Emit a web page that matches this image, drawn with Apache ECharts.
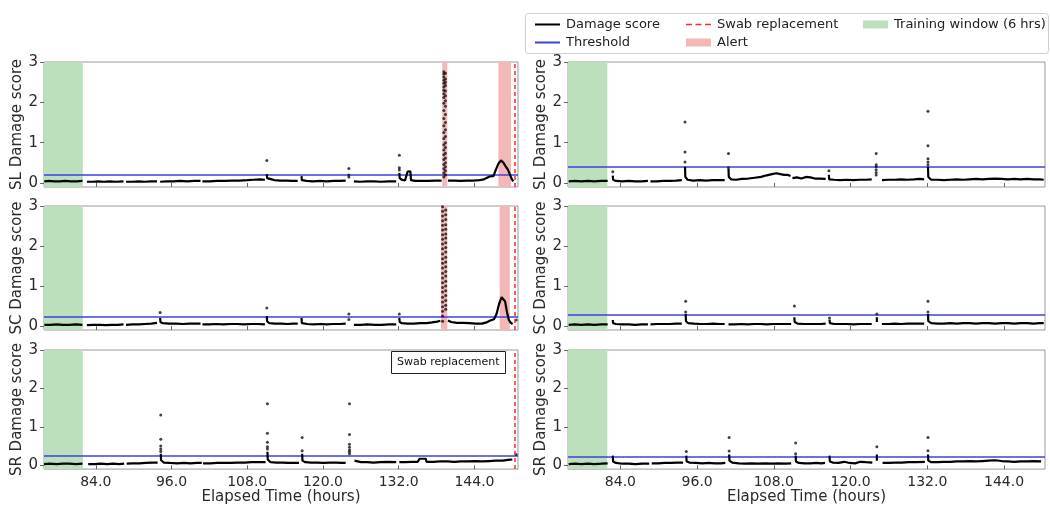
<!DOCTYPE html>
<html>
<head>
<meta charset="utf-8">
<script src="https://cdn.jsdelivr.net/npm/echarts@6/dist/echarts.min.js"></script>
<style>html,body{margin:0;padding:0;background:#fff}#c{width:1050px;height:506px}</style>
</head>
<body>
<div id="c"></div>
<script>
// ---------------- data (hours, damage score) ----------------
const xTicks = [84, 96, 108, 120, 132, 144];
const yTicks = [0, 1, 2, 3];
const rowNames = ['SL Damage score', 'SC Damage score', 'SR Damage score'];
const xRangeLeft = [75.8, 150.9];
const xRangeRight = [75.8, 150.4];
const trainingWindow = [75.8, 81.95];
const swabTime = 150.35;
// thresholds: left SL, SC, SR, right SL, SC, SR
const thresholds = [0.21, 0.22, 0.26, 0.39, 0.27, 0.21];

const slLeftAlerts = [[138.9, 139.7], [147.8, 149.8]];
const scLeftAlerts = [[138.7, 139.7], [148.0, 149.6]];

const slLeftLine = [
 [[75.85,0.04],[76.6,0.05],[77.4,0.04],[78.3,0.04],[79.2,0.05],[80.1,0.04],[81.0,0.04],[81.9,0.05]],
 [[82.6,0.03],[83.5,0.03],[84.4,0.04],[85.3,0.03],[86.2,0.04],[87.2,0.03],[88.4,0.04]],
 [[88.8,0.03],[89.8,0.03],[90.8,0.04],[91.8,0.03],[92.8,0.04],[93.7,0.04]],
 [[94.2,0.03],[95.2,0.04],[96.3,0.04],[97.4,0.05],[98.5,0.04],[99.6,0.05],[100.6,0.05]],
 [[100.9,0.04],[102.0,0.04],[103.2,0.05],[104.4,0.05],[105.6,0.06],[106.8,0.06],[108.0,0.07],[109.0,0.08],[110.0,0.09],[110.8,0.08]],
 [[111.1,0.22],[111.15,0.12],[111.4,0.08],[112.3,0.07],[113.2,0.06],[114.2,0.06],[115.1,0.05],[116.0,0.05]],
 [[116.6,0.17],[116.65,0.07],[117.4,0.05],[118.4,0.04],[119.5,0.05],[120.6,0.04],[121.7,0.05],[122.7,0.05],[123.6,0.06]],
 [[124.9,0.04],[125.9,0.03],[127.0,0.04],[128.1,0.04],[129.2,0.03],[130.4,0.04],[131.6,0.04]],
 [[132.1,0.25],[132.15,0.12],[132.5,0.08],[133.0,0.06],[133.3,0.07],[133.4,0.28],[133.6,0.3],[133.85,0.29],[133.95,0.07],[134.6,0.05],[135.6,0.05],[136.7,0.05],[137.8,0.06],[138.8,0.06]],
 [[139.8,0.06],[140.8,0.06],[141.8,0.05],[142.8,0.06],[143.8,0.06],[144.8,0.07],[145.5,0.09],[146.0,0.13],[146.4,0.16],[146.7,0.12],[147.0,0.17],[147.4,0.33],[147.8,0.48],[148.2,0.56],[148.6,0.5],[149.0,0.4],[149.3,0.33],[149.6,0.22],[149.9,0.1],[150.15,0.04]]
];
const slLeftDots = [[111.1,0.56],[124.1,0.36],[124.1,0.2],[124.1,0.15],[132.1,0.69],[132.1,0.38],[132.1,0.32]];
const slLeftBurst = [
 [139.15, [2.76,2.7,2.63,2.55,2.47,2.38,2.3,2.21,2.12,1.98,1.8,1.6,1.42,1.25,1.1,0.95,0.82,0.7,0.58,0.46,0.35,0.25,0.15]],
 [139.4, [2.72,2.58,2.5,2.42,2.28,2.16,2.04,1.9,1.7,1.5,1.32,1.15,1.0,0.88,0.74,0.62,0.5,0.4,0.3,0.2]]
];

const scLeftLine = [
 [[75.85,0.03],[76.8,0.03],[77.8,0.04],[78.8,0.03],[79.8,0.03],[80.9,0.04],[81.9,0.03]],
 [[82.6,0.02],[83.6,0.03],[84.6,0.03],[85.6,0.02],[86.6,0.03],[87.5,0.03],[88.4,0.04]],
 [[88.8,0.03],[89.8,0.04],[90.8,0.04],[91.8,0.05],[92.8,0.06],[93.7,0.08]],
 [[94.2,0.2],[94.25,0.1],[94.6,0.07],[95.6,0.06],[96.7,0.06],[97.8,0.05],[98.9,0.06],[99.8,0.06],[100.6,0.06]],
 [[100.9,0.04],[102.0,0.04],[103.1,0.05],[104.2,0.04],[105.3,0.05],[106.4,0.05],[107.5,0.04],[108.6,0.05],[109.7,0.05],[110.8,0.04]],
 [[111.1,0.25],[111.15,0.12],[111.5,0.07],[112.4,0.06],[113.4,0.06],[114.4,0.05],[115.3,0.06],[116.0,0.06]],
 [[116.6,0.2],[116.65,0.07],[117.5,0.05],[118.5,0.04],[119.6,0.05],[120.6,0.04],[121.6,0.05],[122.7,0.05],[123.6,0.06]],
 [[124.9,0.03],[126.0,0.03],[127.1,0.04],[128.2,0.03],[129.3,0.03],[130.5,0.04],[131.6,0.04]],
 [[132.1,0.2],[132.15,0.1],[132.5,0.07],[133.4,0.06],[134.4,0.06],[135.4,0.07],[136.4,0.07],[137.3,0.09],[138.1,0.11],[138.6,0.13]],
 [[139.8,0.14],[140.3,0.1],[141.2,0.08],[142.2,0.08],[143.2,0.07],[144.2,0.06],[145.2,0.06],[145.9,0.09],[146.4,0.13],[146.7,0.12],[147.1,0.17],[147.5,0.3],[147.9,0.55],[148.3,0.72],[148.6,0.76],[148.85,0.62],[149.15,0.35],[149.45,0.15],[149.75,0.08],[150.05,0.05]]
];
const scLeftDots = [[94.2,0.34],[111.1,0.45],[124.1,0.3],[124.1,0.16],[132.1,0.3],[150.6,0.15]];
const scLeftBurst = [
 [138.95, [2.98,2.87,2.75,2.63,2.52,2.4,2.28,2.17,2.05,1.93,1.8,1.68,1.57,1.45,1.32,1.2,1.08,0.96,0.85,0.72,0.6,0.48,0.37,0.25,0.12]],
 [139.45, [2.9,2.78,2.66,2.53,2.42,2.3,2.2,2.08,1.96,1.85,1.72,1.6,1.48,1.36,1.25,1.12,1.0,0.88,0.76,0.64,0.52,0.42]]
];

const srLeftLine = [
 [[75.8,0.03],[76.8,0.04],[77.8,0.03],[78.8,0.04],[79.8,0.04],[80.9,0.03],[81.9,0.04]],
 [[82.8,0.03],[83.8,0.03],[84.8,0.04],[85.8,0.03],[86.8,0.04],[87.7,0.03],[88.5,0.04]],
 [[88.9,0.04],[89.9,0.05],[90.9,0.05],[91.9,0.06],[92.9,0.07],[93.8,0.07]],
 [[94.3,0.3],[94.35,0.13],[94.8,0.07],[95.8,0.06],[96.9,0.05],[98.0,0.06],[99.0,0.05],[100.0,0.06],[100.8,0.06]],
 [[101.0,0.05],[102.1,0.05],[103.2,0.06],[104.3,0.06],[105.4,0.06],[106.5,0.07],[107.6,0.07],[108.7,0.08],[109.8,0.08],[110.9,0.08]],
 [[111.2,0.35],[111.25,0.15],[111.7,0.08],[112.6,0.07],[113.6,0.07],[114.5,0.06],[115.4,0.06],[116.2,0.06]],
 [[116.7,0.3],[116.75,0.12],[117.2,0.08],[118.1,0.07],[119.1,0.07],[120.1,0.06],[121.1,0.07],[122.1,0.07],[123.0,0.06],[123.6,0.06]],
 [[125.0,0.12],[125.1,0.07],[126.0,0.08],[127.0,0.08],[128.0,0.07],[129.1,0.08],[130.2,0.09],[131.6,0.08]],
 [[132.1,0.08],[133.0,0.08],[134.0,0.09],[135.0,0.09],[135.3,0.17],[136.3,0.17],[136.4,0.09],[137.5,0.09],[138.6,0.1],[139.7,0.1],[140.8,0.09],[141.9,0.1],[143.0,0.1],[144.1,0.11],[145.2,0.1],[146.3,0.11],[147.4,0.12],[148.5,0.12],[149.3,0.14],[150.0,0.15]]
];
const srLeftDots = [[94.3,1.31],[94.3,0.68],[94.3,0.5],[94.3,0.42],[94.3,0.36],[111.2,1.6],[111.2,0.83],[111.2,0.6],[111.2,0.48],[111.2,0.42],[116.7,0.72],[116.7,0.38],[124.2,1.6],[124.2,0.8],[124.2,0.55],[124.2,0.47],[124.2,0.4],[124.2,0.35],[124.2,0.3],[150.6,0.28]];

const slRightLine = [
 [[75.9,0.04],[76.9,0.05],[77.9,0.04],[78.9,0.05],[79.9,0.04],[81.0,0.05],[82.0,0.05]],
 [[82.8,0.18],[82.85,0.08],[83.3,0.05],[84.3,0.04],[85.3,0.05],[86.3,0.04],[87.3,0.04],[88.3,0.05]],
 [[88.7,0.04],[89.7,0.04],[90.7,0.05],[91.7,0.05],[92.7,0.06],[93.6,0.07]],
 [[94.1,0.4],[94.15,0.15],[94.5,0.08],[95.4,0.06],[96.4,0.07],[97.4,0.06],[98.4,0.07],[99.4,0.07],[100.3,0.07]],
 [[100.9,0.35],[100.95,0.15],[101.3,0.09],[102.1,0.08],[103.0,0.1],[104.0,0.11],[105.0,0.13],[106.0,0.15],[106.9,0.19],[107.7,0.22],[108.4,0.24],[109.0,0.22],[109.6,0.2],[110.2,0.2],[110.6,0.17]],
 [[110.9,0.12],[111.6,0.14],[112.3,0.11],[113.0,0.15],[113.7,0.14],[114.4,0.11],[115.2,0.11],[116.1,0.1]],
 [[116.6,0.2],[116.65,0.09],[117.4,0.08],[118.4,0.07],[119.4,0.08],[120.4,0.07],[121.4,0.08],[122.4,0.08],[123.3,0.09]],
 [[124.9,0.07],[125.9,0.08],[126.9,0.08],[127.9,0.09],[128.9,0.08],[129.9,0.09],[130.8,0.1],[131.5,0.09]],
 [[132.1,0.4],[132.15,0.15],[132.6,0.08],[133.6,0.08],[134.6,0.07],[135.6,0.08],[136.6,0.09],[137.6,0.08],[138.6,0.09],[139.6,0.1],[140.6,0.09],[141.6,0.1],[142.6,0.11],[143.6,0.1],[144.6,0.09],[145.6,0.1],[146.6,0.09],[147.6,0.1],[148.6,0.09],[149.6,0.09],[150.2,0.08]]
];
const slRightDots = [[82.8,0.28],[94.1,1.51],[94.1,0.77],[94.1,0.52],[100.9,0.73],[100.9,0.38],[116.6,0.3],[124.0,0.73],[124.0,0.45],[124.0,0.4],[124.0,0.33],[124.0,0.26],[124.0,0.2],[132.1,1.78],[132.1,0.92],[132.1,0.6],[132.1,0.52],[132.1,0.45]];

const scRightLine = [
 [[75.9,0.03],[76.9,0.04],[77.9,0.03],[78.9,0.04],[79.9,0.03],[81.0,0.04],[82.0,0.04]],
 [[82.8,0.15],[82.85,0.07],[83.3,0.05],[84.3,0.04],[85.3,0.04],[86.3,0.03],[87.3,0.04],[88.3,0.04]],
 [[88.7,0.04],[89.7,0.05],[90.7,0.05],[91.7,0.05],[92.7,0.06],[93.6,0.06]],
 [[94.2,0.3],[94.25,0.12],[94.6,0.07],[95.5,0.06],[96.5,0.05],[97.5,0.05],[98.5,0.06],[99.5,0.05],[100.3,0.05]],
 [[100.9,0.04],[101.9,0.04],[102.9,0.05],[103.9,0.04],[104.9,0.05],[105.9,0.05],[106.9,0.04],[107.9,0.05],[108.9,0.05],[109.9,0.05],[110.7,0.05]],
 [[111.2,0.22],[111.25,0.1],[111.7,0.06],[112.6,0.05],[113.6,0.05],[114.5,0.05],[115.4,0.05],[116.1,0.06]],
 [[116.7,0.16],[116.75,0.07],[117.4,0.05],[118.4,0.05],[119.4,0.05],[120.4,0.04],[121.4,0.05],[122.4,0.05],[123.3,0.05]],
 [[124.1,0.22],[124.1,0.1]],
 [[124.9,0.05],[125.9,0.05],[126.9,0.06],[127.9,0.05],[128.9,0.06],[129.9,0.06],[130.8,0.06],[131.5,0.06]],
 [[132.1,0.3],[132.15,0.12],[132.6,0.07],[133.6,0.06],[134.6,0.06],[135.6,0.07],[136.6,0.06],[137.6,0.07],[138.6,0.07],[139.6,0.06],[140.6,0.07],[141.6,0.07],[142.6,0.06],[143.6,0.07],[144.6,0.07],[145.6,0.06],[146.6,0.07],[147.6,0.07],[148.6,0.06],[149.6,0.07],[150.2,0.07]]
];
const scRightDots = [[94.2,0.62],[94.2,0.35],[111.2,0.5],[116.7,0.2],[124.1,0.3],[132.1,0.62],[132.1,0.35]];

const srRightLine = [
 [[75.9,0.03],[76.9,0.04],[77.9,0.03],[78.9,0.04],[79.9,0.03],[81.0,0.04],[82.0,0.05]],
 [[82.8,0.25],[82.85,0.1],[83.3,0.06],[84.3,0.04],[85.3,0.04],[86.3,0.03],[87.4,0.04],[88.5,0.04]],
 [[88.9,0.05],[89.9,0.05],[90.9,0.06],[91.9,0.06],[92.9,0.07],[93.8,0.07]],
 [[94.3,0.25],[94.35,0.1],[94.8,0.07],[95.8,0.06],[96.8,0.05],[97.8,0.06],[98.8,0.05],[99.7,0.05],[100.4,0.06]],
 [[101.0,0.28],[101.05,0.12],[101.5,0.07],[102.5,0.05],[103.5,0.04],[104.5,0.05],[105.5,0.04],[106.6,0.05],[107.7,0.04],[108.8,0.05],[109.8,0.04],[110.7,0.05]],
 [[111.4,0.25],[111.45,0.1],[111.9,0.06],[112.8,0.05],[113.7,0.05],[114.6,0.06],[115.4,0.05],[116.0,0.06]],
 [[116.7,0.25],[116.75,0.1],[117.2,0.07],[118.1,0.06],[119.0,0.09],[119.8,0.06],[120.7,0.05],[121.5,0.09],[122.4,0.08],[123.4,0.07]],
 [[124.1,0.28],[124.1,0.12]],
 [[125.0,0.06],[126.0,0.06],[127.0,0.07],[128.0,0.07],[129.1,0.08],[130.2,0.08],[131.6,0.09]],
 [[132.1,0.28],[132.15,0.12],[132.6,0.08],[133.6,0.08],[134.6,0.09],[135.6,0.09],[136.6,0.1],[137.6,0.1],[138.6,0.11],[139.6,0.1],[140.6,0.11],[141.6,0.12],[142.6,0.13],[143.6,0.11],[144.6,0.1],[145.6,0.09],[146.6,0.1],[147.6,0.1],[148.6,0.11],[149.8,0.1]]
];
const srRightDots = [[94.3,0.36],[101.0,0.72],[101.0,0.37],[111.4,0.58],[111.4,0.3],[124.1,0.48],[132.1,0.72],[132.1,0.38]];

// ---------------- chart ----------------
const FONT = 'DejaVu Sans';
const GREEN = '#bcdfbc', PINK = '#f3b7b7', BLUE = '#3f3fe0', RED = '#ff2a2a';
const LINE_ICON = 'path://M0,3.1h25v1.8h-25z M0,0h0.01v0.01h-0.01z M0,8h0.01v0.01h-0.01z';
const DASH_ICON = 'path://M0,3.2h6v1.6h-6z M9.5,3.2h6v1.6h-6z M19,3.2h6v1.6h-6z M0,0h0.01v0.01h-0.01z M0,8h0.01v0.01h-0.01z';

const panels = [
 {col:0,row:0,line:slLeftLine,dots:slLeftDots,burst:slLeftBurst,alerts:slLeftAlerts,swab:true},
 {col:0,row:1,line:scLeftLine,dots:scLeftDots,burst:scLeftBurst,alerts:scLeftAlerts,swab:true},
 {col:0,row:2,line:srLeftLine,dots:srLeftDots,burst:[],alerts:[],swab:true},
 {col:1,row:0,line:slRightLine,dots:slRightDots,burst:[],alerts:[],swab:false},
 {col:1,row:1,line:scRightLine,dots:scRightDots,burst:[],alerts:[],swab:false},
 {col:1,row:2,line:srRightLine,dots:srRightDots,burst:[],alerts:[],swab:false}
];
const colBox = [{left:44,width:474},{left:568,width:477}];
const rowBox = [{top:62,height:125},{top:206,height:124},{top:350,height:124}];

const grid = [], xAxis = [], yAxis = [], series = [];
panels.forEach((p, i) => {
  grid.push({left: colBox[p.col].left, width: colBox[p.col].width, top: rowBox[p.row].top, height: rowBox[p.row].height,
    show: true, borderColor: '#9a9a9a', borderWidth: 1, backgroundColor: 'transparent'});
  const rng = p.col === 0 ? xRangeLeft : xRangeRight;
  const bottom = p.row === 2;
  xAxis.push({type:'value', gridIndex:i, min:rng[0], max:rng[1],
    axisLine:{show:false}, splitLine:{show:false},
    axisTick:{show:true, customValues:xTicks, length:4, lineStyle:{color:'#666'}},
    axisLabel:{show:bottom, customValues:xTicks, formatter:v=>v.toFixed(1), fontSize:14, color:'#2a2a2a', margin:6, fontFamily:FONT},
    name: bottom ? 'Elapsed Time (hours)' : '', nameLocation:'middle', nameGap:17,
    nameTextStyle:{fontSize:15, color:'#2a2a2a', fontFamily:FONT}});
  yAxis.push({type:'value', gridIndex:i, min:-0.1, max:3,
    axisLine:{show:false}, splitLine:{show:false},
    axisTick:{show:true, customValues:yTicks, length:4, lineStyle:{color:'#666'}},
    axisLabel:{customValues:yTicks, fontSize:15, color:'#2a2a2a', margin:6, fontFamily:FONT},
    name: rowNames[p.row], nameLocation:'middle', nameGap:19, nameRotate:90,
    nameTextStyle:{fontSize:15, color:'#2a2a2a', fontFamily:FONT}});

  series.push({name:'Training window (6 hrs)', type:'line', xAxisIndex:i, yAxisIndex:i, data:[], color:GREEN,
    itemStyle:{color:GREEN}, silent:true,
    markArea:{silent:true, itemStyle:{color:GREEN, opacity:1}, data:[[{xAxis:trainingWindow[0]},{xAxis:trainingWindow[1]}]]}});
  series.push({name:'Alert', type:'line', xAxisIndex:i, yAxisIndex:i, data:[], color:PINK, itemStyle:{color:PINK}, silent:true,
    markArea:{silent:true, itemStyle:{color:PINK, opacity:1}, data:p.alerts.map(a=>[{xAxis:a[0]},{xAxis:a[1]}])}});
  series.push({name:'Threshold', type:'line', xAxisIndex:i, yAxisIndex:i, data:[], color:BLUE, itemStyle:{color:BLUE}, symbol:'none',
    lineStyle:{color:BLUE, width:1.5}, silent:true, z:3,
    markLine:{silent:true, symbol:'none', label:{show:false}, animation:false,
      lineStyle:{color:BLUE, width:1.5, type:'solid'}, data:[{yAxis:thresholds[i]}]}});
  const flat = [];
  p.line.forEach((seg, k) => {
    if (k > 0) flat.push([seg[0][0], '-']);
    seg.forEach(pt => flat.push(pt));
  });
  series.push({name:'Damage score', type:'line', xAxisIndex:i, yAxisIndex:i, data:flat, color:'#000', itemStyle:{color:'#000'},
    symbol:'none', connectNulls:false, lineStyle:{color:'#000', width:2.2}, z:5, silent:true, animation:false});
  const pts = p.dots.slice();
  p.burst.forEach(b => b[1].forEach(v => pts.push([b[0], v])));
  series.push({name:'Damage score points', type:'scatter', xAxisIndex:i, yAxisIndex:i, data:pts,
    symbolSize:3, itemStyle:{color:'#111'}, z:6, silent:true, animation:false});
  if (p.swab) {
    series.push({name:'Swab replacement', type:'line', xAxisIndex:i, yAxisIndex:i, data:[], color:RED, itemStyle:{color:RED}, symbol:'none',
      lineStyle:{color:RED, width:1.5, type:[4,3]}, silent:true, z:7,
      markLine:{silent:true, symbol:'none', label:{show:false}, animation:false, z:7,
        lineStyle:{color:RED, width:1.5, type:[4,3], opacity:1}, data:[{xAxis:swabTime}]}});
  }
});

const legendBase = {orient:'vertical', top:12, itemWidth:25, itemHeight:8, itemGap:3, selectedMode:false,
  itemStyle:{borderWidth:0}, symbolKeepAspect:false,
  textStyle:{fontSize:13, color:'#222', fontFamily:FONT, lineHeight:15, padding:[0,0,0,1]}};

const option = {
  animation:false,
  textStyle:{fontFamily:FONT},
  grid, xAxis, yAxis, series,
  legend:[
    Object.assign({}, legendBase, {left:530, data:[{name:'Damage score', icon:LINE_ICON},{name:'Threshold', icon:LINE_ICON}]}),
    Object.assign({}, legendBase, {left:681, data:[{name:'Swab replacement', icon:DASH_ICON},{name:'Alert', icon:'rect'}]}),
    Object.assign({}, legendBase, {left:858, data:[{name:'Training window (6 hrs)', icon:'rect'}]})
  ],
  title:[{text:'Swab replacement', left:391, top:351, borderColor:'#222', borderWidth:1, padding:[6,6],
    textStyle:{fontSize:11, fontWeight:'normal', color:'#111', fontFamily:FONT}}],
  graphic:[{type:'rect', left:525, top:13, z:-1, shape:{width:523, height:40, r:3},
    style:{fill:'#fff', stroke:'#cfcfcf', lineWidth:1}}]
};

const chart = echarts.init(document.getElementById('c'), null, {renderer:'canvas'});
chart.setOption(option);
</script>
</body>
</html>
